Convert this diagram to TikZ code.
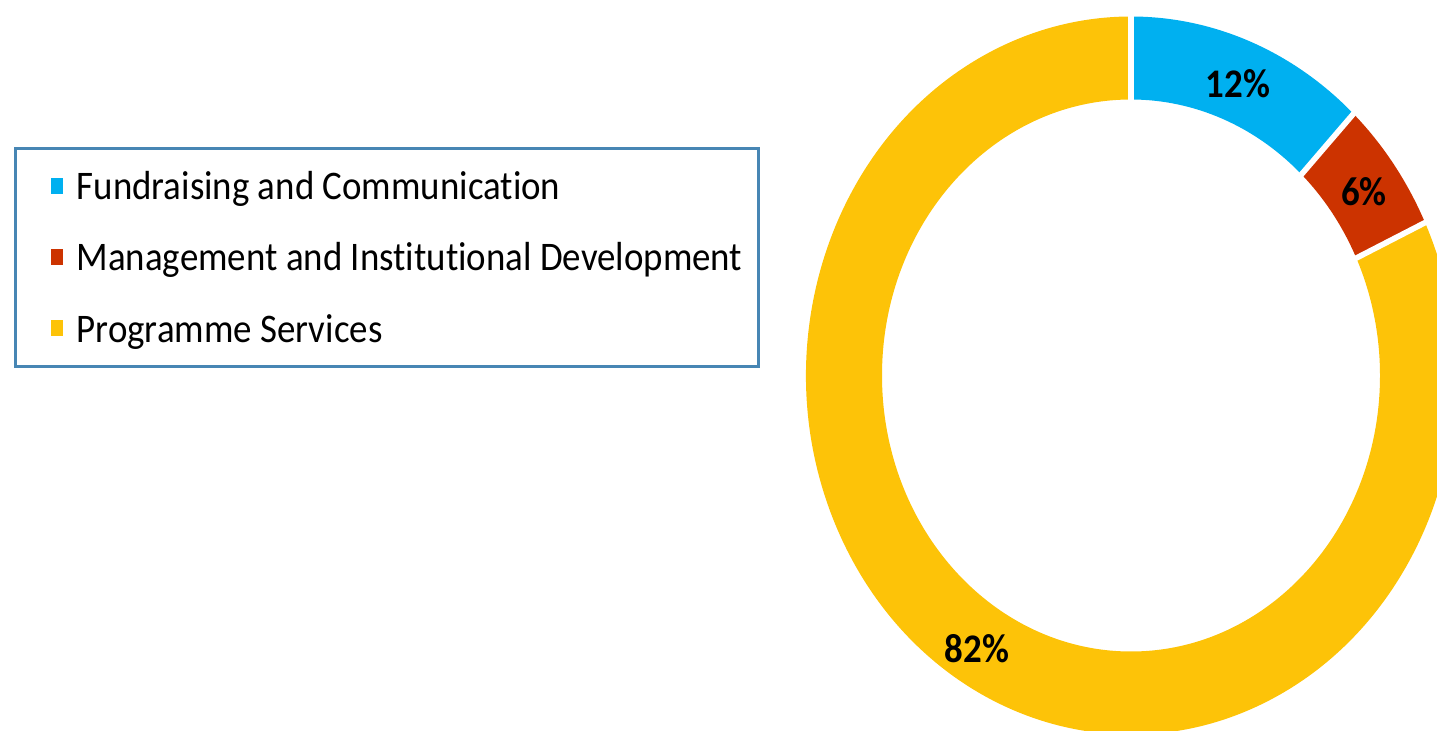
\documentclass[tikz,border=0pt]{standalone}
\usepackage{fontspec}
\setmainfont{Carlito}[Ligatures=NoCommon]
\definecolor{FundColour}{HTML}{00B0F0}
\definecolor{MgmtColour}{HTML}{CC3300}
\definecolor{ProgColour}{HTML}{FDC308}
\definecolor{FrameColour}{HTML}{4786B4}
\newcommand{\tallbox}[1]{\scalebox{1}[1.1]{#1}}
\tikzset{
  keybox/.style={minimum width=0.12cm, minimum height=0.16cm, inner sep=0pt},
  keytext/.style={anchor=base west, inner sep=0pt, font=\fontsize{10.5}{12}\selectfont},
  pcttext/.style={inner sep=0pt, font=\bfseries\fontsize{10.5}{12}\selectfont}
}
\begin{document}
\begin{tikzpicture}
\useasboundingbox (0,0) rectangle (14.37,7.30);
% legend
\draw[FrameColour, line width=0.75pt] (0.155,3.635) rectangle (7.585,5.815);
\node[keybox, fill=FundColour] (fundkey) at (0.57,5.44) {};
\node[keytext] (fundlabel) at (0.76,5.305) {\tallbox{Fundraising and Communication}};
\node[keybox, fill=MgmtColour] (mgmtkey) at (0.57,4.725) {};
\node[keytext] (mgmtlabel) at (0.76,4.59) {\tallbox{Management and Institutional Development}};
\node[keybox, fill=ProgColour] (progkey) at (0.57,4.015) {};
\node[keytext] (proglabel) at (0.76,3.875) {\tallbox{Programme Services}};
% ring
\begin{scope}[shift={(11.31,3.545)}]
\fill[FundColour] (90:3.25 and 3.59) arc[start angle=90, end angle=46.8, x radius=3.25, y radius=3.59] -- (46.8:2.49 and 2.76) arc[start angle=46.8, end angle=90, x radius=2.49, y radius=2.76] -- cycle;
\fill[MgmtColour] (46.8:3.25 and 3.59) arc[start angle=46.8, end angle=25.2, x radius=3.25, y radius=3.59] -- (25.2:2.49 and 2.76) arc[start angle=25.2, end angle=46.8, x radius=2.49, y radius=2.76] -- cycle;
\fill[ProgColour] (25.2:3.25 and 3.59) arc[start angle=25.2, end angle=-270, x radius=3.25, y radius=3.59] -- (-270:2.49 and 2.76) arc[start angle=-270, end angle=25.2, x radius=2.49, y radius=2.76] -- cycle;
\draw[white, line width=1.6pt] (90:2.4 and 2.66) -- (90:3.35 and 3.7);
\draw[white, line width=1.6pt] (46.8:2.4 and 2.66) -- (46.8:3.35 and 3.7);
\draw[white, line width=1.6pt] (25.2:2.4 and 2.66) -- (25.2:3.35 and 3.7);
\end{scope}
\node[pcttext] (fundpct) at (12.38,6.465) {\tallbox{12\%}};
\node[pcttext] (mgmtpct) at (13.64,5.385) {\tallbox{6\%}};
\node[pcttext] (progpct) at (9.77,0.81) {\tallbox{82\%}};
\end{tikzpicture}
\end{document}
